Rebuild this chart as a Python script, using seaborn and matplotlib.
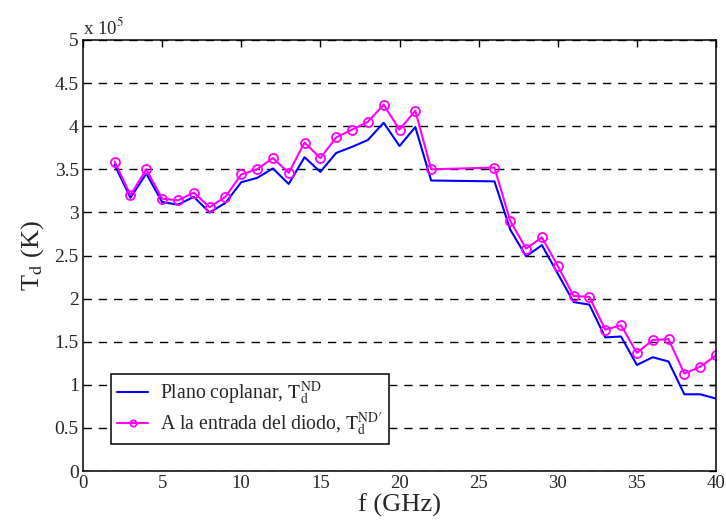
import numpy as np
import pandas as pd
import matplotlib
matplotlib.use("Agg")
import matplotlib.pyplot as plt
import seaborn as sns

# Frequency points (GHz)
freq = [2, 3, 4, 5, 6, 7, 8, 9, 10, 11, 12, 13, 14, 15, 16, 17, 18, 19, 20, 21,
        22, 26, 27, 28, 29, 30, 31, 32, 33, 34, 35, 36, 37, 38, 39, 40]

# Noise temperature at the coplanar plane (x 1e5 K)
td_coplanar = [3.55, 3.17, 3.45, 3.12, 3.09, 3.18, 3.00, 3.11, 3.35, 3.40,
               3.51, 3.33, 3.64, 3.47, 3.69, 3.76, 3.84, 4.04, 3.77, 3.99,
               3.37, 3.36, 2.80, 2.49, 2.62, 2.29, 1.96, 1.93, 1.55, 1.56,
               1.23, 1.32, 1.27, 0.89, 0.89, 0.84]

# Noise temperature at the diode input (x 1e5 K)
td_diodo = [3.59, 3.20, 3.50, 3.16, 3.14, 3.23, 3.06, 3.18, 3.44, 3.50,
            3.63, 3.46, 3.81, 3.63, 3.87, 3.96, 4.05, 4.25, 3.96, 4.18,
            3.50, 3.52, 2.90, 2.58, 2.71, 2.38, 2.03, 2.02, 1.64, 1.69,
            1.37, 1.52, 1.53, 1.13, 1.21, 1.34]

x_ticks = [0, 5, 10, 15, 20, 25, 30, 35, 40]
y_ticks = [0, 0.5, 1, 1.5, 2, 2.5, 3, 3.5, 4, 4.5, 5]
y_tick_labels = ["0", "0.5", "1", "1.5", "2", "2.5", "3", "3.5", "4", "4.5", "5"]

label_coplanar = r"Plano coplanar, $\mathrm{T_d^{ND}}$"
label_diodo = r"A la entrada del diodo, $\mathrm{T_d^{ND\prime}}$"

sns.set_style("white")
plt.rcParams["font.family"] = ["Liberation Serif", "DejaVu Serif"]
plt.rcParams["mathtext.fontset"] = "stix"

df = pd.DataFrame({"f": freq, "coplanar": td_coplanar, "diodo": td_diodo})

fig = plt.figure(figsize=(7.26, 5.23), dpi=100)
ax = fig.add_axes([83 / 726, 52 / 523, 633 / 726, 431 / 523])

sns.lineplot(data=df, x="f", y="coplanar", ax=ax, color="#0000ff",
             linewidth=1.5, label=label_coplanar)
sns.lineplot(data=df, x="f", y="diodo", ax=ax, color="#ff00ff",
             linewidth=1.5, marker="o", markersize=6.5,
             markerfacecolor="none", markeredgecolor="#ff00ff",
             markeredgewidth=1.3, label=label_diodo)

ax.set_xlim(0, 40)
ax.set_ylim(0, 5)
ax.set_xticks(x_ticks)
ax.set_xticklabels([str(t) for t in x_ticks])
ax.set_yticks(y_ticks)
ax.set_yticklabels(y_tick_labels)

ax.yaxis.grid(True, color="black", linestyle=(0, (6, 5)), linewidth=1.0)
ax.xaxis.grid(False)
ax.set_axisbelow(True)

ax.tick_params(axis="both", direction="in", length=5, width=1, color="black",
               labelsize=14, top=True, right=True, pad=3)
ax.tick_params(axis="x", labelsize=13.5)
for sp in ax.spines.values():
    sp.set_color("black")
    sp.set_linewidth(1.1)

ax.set_xlabel("f (GHz)", fontsize=19, labelpad=1)
ax.set_ylabel(r"T$_\mathrm{d}$ (K)", fontsize=19, labelpad=6)

ax.text(0.0, 1.005, r"x 10$^5$", transform=ax.transAxes, fontsize=13.5,
        ha="left", va="bottom")

leg = ax.legend(loc="lower left", bbox_to_anchor=(0.044, 0.063), fontsize=14.2,
                frameon=True, fancybox=False, edgecolor="black",
                framealpha=1, borderpad=0.3, borderaxespad=0.0,
                handlelength=1.6, labelspacing=0.15, handletextpad=0.6,
                markerscale=0.7)
leg.get_frame().set_linewidth(1.1)

fig.savefig("out.png", dpi=100)
